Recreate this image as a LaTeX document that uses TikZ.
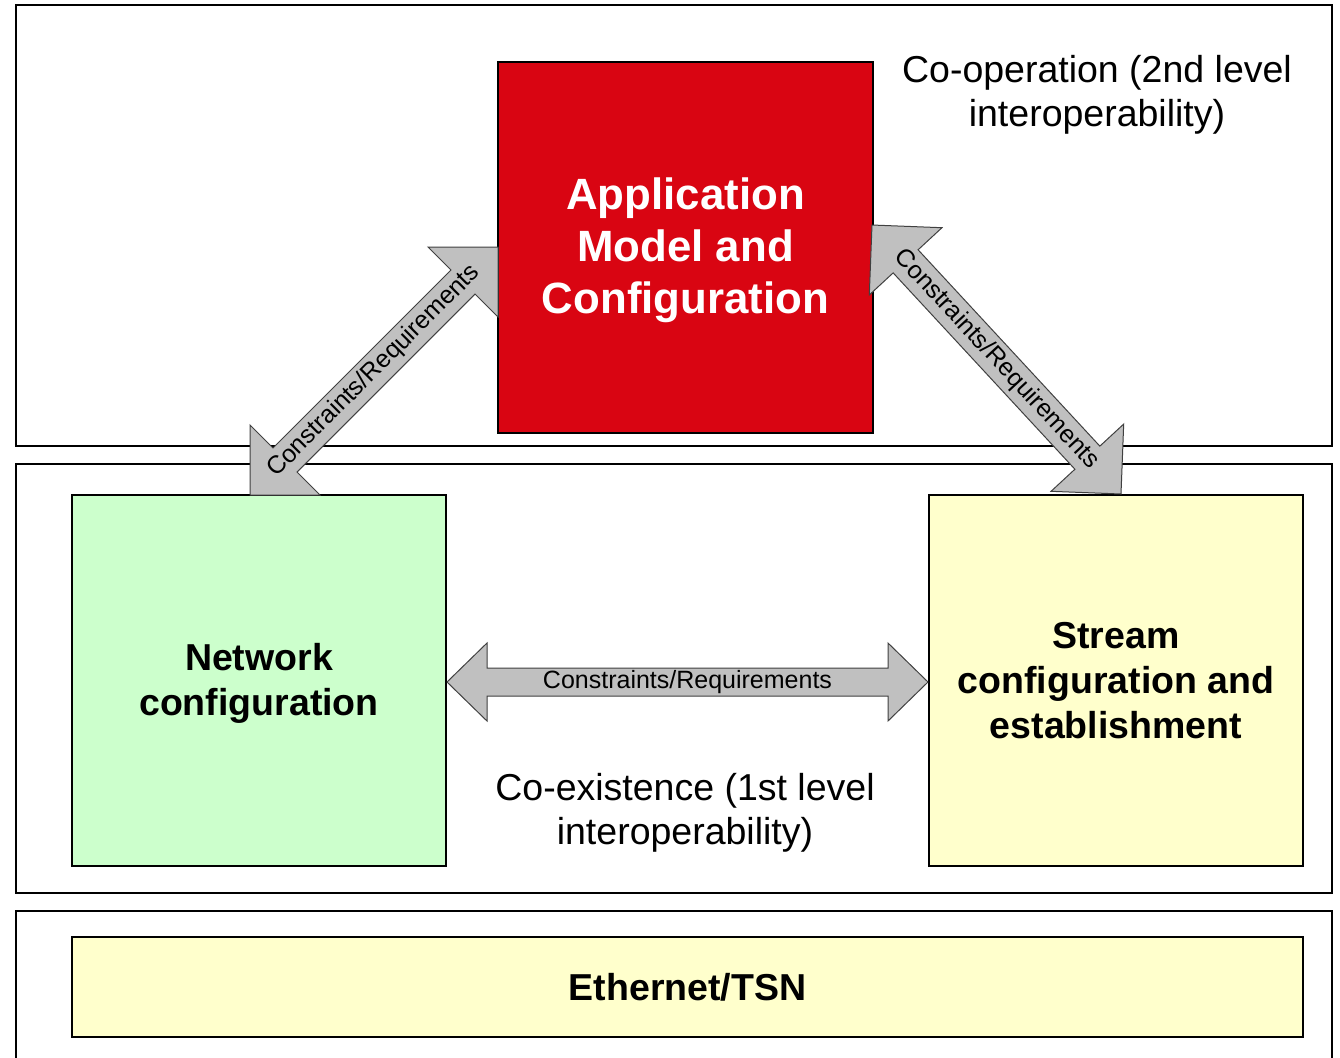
\documentclass[tikz,border=0pt]{standalone}
\usepackage{fontspec}
\setmainfont{Liberation Sans}
\usetikzlibrary{calc}
\definecolor{appred}{RGB}{217,5,18}
\definecolor{netgreen}{RGB}{204,255,204}
\definecolor{strmyellow}{RGB}{255,255,204}
\definecolor{arrgray}{RGB}{192,192,192}
\newcommand{\fatarrow}[5]{%
\draw[fatarrowstyle] (#1) -- ($(#1)!#5!(#2)!#4!90:(#2)$) -- ($(#1)!#5!(#2)!#3!90:(#2)$)
 -- ($(#2)!#5!(#1)!#3!-90:(#1)$) -- ($(#2)!#5!(#1)!#4!-90:(#1)$) -- (#2)
 -- ($(#2)!#5!(#1)!#4!90:(#1)$) -- ($(#2)!#5!(#1)!#3!90:(#1)$)
 -- ($(#1)!#5!(#2)!#3!-90:(#2)$) -- ($(#1)!#5!(#2)!#4!-90:(#2)$) -- cycle;}
\tikzset{
  layer/.style={draw=black, line width=1pt},
  boxstyle/.style={draw=black, line width=1pt, inner sep=0pt, align=center},
  fatarrowstyle/.style={draw=black!75, line width=0.5pt, fill=arrgray},
  lbl/.style={font=\fontsize{12.5}{15}\selectfont, inner sep=0pt},
  bigbold/.style={font=\fontsize{18.75}{22.5}\selectfont\bfseries},
  plaintext/.style={font=\fontsize{18.75}{22}\selectfont, align=center, inner sep=0pt}
}
\begin{document}
\begin{tikzpicture}[x=0.5pt, y=-0.5pt]
\useasboundingbox (0,0) rectangle (1340,1057);
% layers
\draw[layer] (16,5) rectangle (1332,446);
\draw[layer] (16,464) rectangle (1332,893);
\draw[layer] (16,1060) -- (16,911) -- (1332,911) -- (1332,1060);
% boxes
\node[boxstyle, fill=appred, text=white, minimum width=187.5pt, minimum height=185.5pt,
      font=\fontsize{21.9}{26}\selectfont\bfseries] (app) at (685.5,247.5)
      {\rule{0pt}{18.8pt}Application\\Model and\\Configuration};
\node[boxstyle, bigbold, fill=netgreen, minimum width=187pt, minimum height=185.5pt] (net) at (259,680.5)
      {\rule{0pt}{16.5pt}Network\\configuration};
\node[boxstyle, bigbold, fill=strmyellow, minimum width=187pt, minimum height=185.5pt] (strm) at (1116,680.5)
      {Stream\\configuration and\\establishment};
\node[boxstyle, bigbold, fill=strmyellow, minimum width=615.5pt, minimum height=50pt] (eth) at (687.5,987)
      {Ethernet/TSN};
% texts
\node[plaintext] (coop) at (1097,95) {Co-operation (2nd level\\interoperability)};
\node[plaintext] (coex) at (685,813) {Co-existence (1st level\\interoperability)};
% arrow endpoints
\coordinate (la) at (250,495);
\coordinate (lb) at (498,247);
\coordinate (ra) at (872,225);
\coordinate (rb) at (1121,494);
\coordinate (ha) at (447,682);
\coordinate (hb) at (928,682);
% arrows
\fatarrow{la}{lb}{8.5pt}{24.75pt}{24.75pt}
\fatarrow{ra}{rb}{8.5pt}{24.75pt}{24.75pt}
\fatarrow{ha}{hb}{7pt}{19.5pt}{20pt}
\path (la) -- node[lbl, sloped] (lablL) {Constraints/Requirements} (lb);
\path (ra) -- node[lbl, sloped] (lablR) {Constraints/Requirements} (rb);
\path (ha) -- node[lbl] (lablH) {Constraints/Requirements} (hb);
\end{tikzpicture}
\end{document}
